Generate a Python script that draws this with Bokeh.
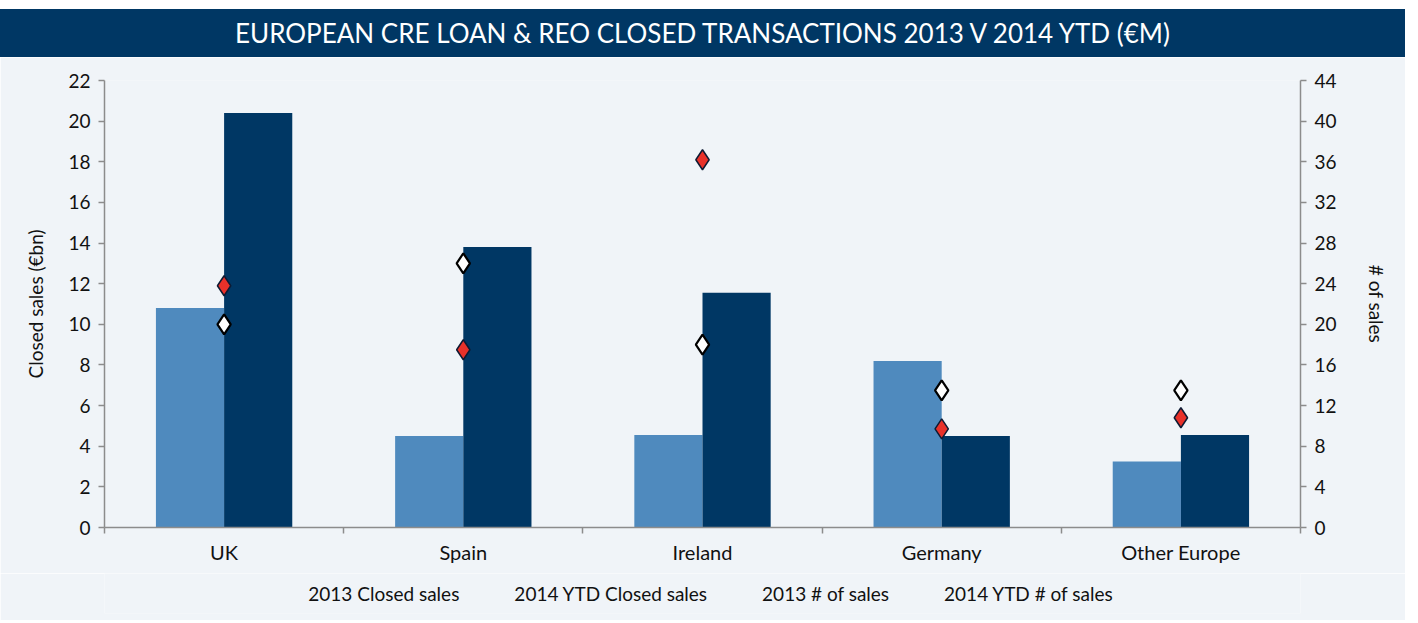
from bokeh.plotting import figure
from bokeh.models import (Range1d, LinearAxis, FixedTicker, Legend, LegendItem,
                          ColumnDataSource, Div)
from bokeh.layouts import column
from bokeh.transform import dodge
from bokeh.embed import file_html
from bokeh.resources import INLINE

# ---------------- data ----------------
categories = ["UK", "Spain", "Ireland", "Germany", "Other Europe"]
closed_2013 = [10.8, 4.5, 4.55, 8.2, 3.25]
closed_2014 = [20.4, 13.8, 11.55, 4.5, 4.55]
count_2013 = [20, 26, 18, 13.5, 13.5]
count_2014 = [23.8, 17.5, 36.2, 9.7, 10.8]
left_ticks = list(range(0, 23, 2))
right_ticks = list(range(0, 45, 4))
series_labels = ["2013 Closed sales", "2014 YTD Closed sales",
                 "2013 # of sales", "2014 YTD # of sales"]
title_text = "EUROPEAN CRE LOAN & REO CLOSED TRANSACTIONS 2013 V 2014 YTD (\u20acM)"

# ---------------- style ----------------
BG = "#f0f4f8"
NAVY = "#003764"
LIGHT = "#4f8abe"
RED = "#e8312a"
GRID = "#8c8c8c"
FONT = "Lato"
TXT = "#111111"

W = 1405
xc = [i + 0.5 for i in range(len(categories))]
src = ColumnDataSource(dict(x=xc, c13=closed_2013, c14=closed_2014,
                            n13=count_2013, n14=count_2014))

bar_style = [dict(fill_color=LIGHT, line_color=None), dict(fill_color=NAVY, line_color=None)]
mk_style = [dict(marker="diamond", size=20, fill_color="white", line_color="black", line_width=2.2),
            dict(marker="diamond", size=20, fill_color=RED, line_color="#0d1a33", line_width=1.5)]

p = figure(frame_width=1196, frame_height=447, x_range=Range1d(0, len(categories)),
           y_range=Range1d(0, 22), output_backend="svg", toolbar_location=None,
           min_border_left=104, min_border_right=105, min_border_top=23,
           min_border_bottom=46, background_fill_color=BG, border_fill_color=BG,
           outline_line_color=None, x_axis_type=None, y_axis_type=None)
p.extra_y_ranges = {"count": Range1d(0, 44)}

bw = 0.285
p.vbar(x=dodge("x", -bw / 2, range=p.x_range), top="c13", width=bw, bottom=0,
       source=src, **bar_style[0])
p.vbar(x=dodge("x", bw / 2, range=p.x_range), top="c14", width=bw, bottom=0,
       source=src, **bar_style[1])
p.scatter(x="x", y="n13", source=src, y_range_name="count", **mk_style[0])
p.scatter(x="x", y="n14", source=src, y_range_name="count", **mk_style[1])


def style_axis(ax, fs="19px"):
    ax.axis_line_color = GRID
    ax.axis_line_width = 1.5
    ax.major_tick_line_color = GRID
    ax.major_tick_line_width = 1.5
    ax.minor_tick_line_color = GRID
    ax.minor_tick_line_width = 1.5
    ax.major_tick_in = 0
    ax.minor_tick_in = 0
    ax.major_label_text_font = FONT
    ax.major_label_text_font_size = fs
    ax.major_label_text_color = TXT
    ax.axis_label_text_font = FONT
    ax.axis_label_text_font_size = "19px"
    ax.axis_label_text_font_style = "normal"
    ax.axis_label_text_color = TXT


# x axis: labels at category centres, small ticks at category boundaries
xax = LinearAxis(ticker=FixedTicker(ticks=xc, minor_ticks=list(range(len(categories) + 1))),
                 major_label_overrides={x: c for x, c in zip(xc, categories)})
style_axis(xax, "20px")
xax.major_tick_out = 0
xax.minor_tick_out = 6
xax.major_label_standoff = 6
xax.axis_label_standoff = 0
xax.axis_label_text_font_size = "0px"
p.add_layout(xax, "below")

lax = LinearAxis(ticker=FixedTicker(ticks=left_ticks, minor_ticks=[]),
                 axis_label="Closed sales (\u20acbn)")
style_axis(lax)
lax.major_tick_out = 6
lax.minor_tick_out = 0
lax.major_label_standoff = 8
lax.axis_label_standoff = 18
p.add_layout(lax, "left")

rax = LinearAxis(y_range_name="count", ticker=FixedTicker(ticks=right_ticks, minor_ticks=[]),
                 axis_label="# of sales")
style_axis(rax)
rax.major_tick_out = 6
rax.minor_tick_out = 0
rax.major_label_standoff = 8
rax.axis_label_standoff = 25
p.add_layout(rax, "right")

p.ygrid.ticker = FixedTicker(ticks=left_ticks)
p.ygrid.grid_line_color = GRID
p.ygrid.grid_line_width = 1.5
p.xgrid.grid_line_color = None

# ---------------- legend strip (own small figure, same glyph styles) ----------------
lg = figure(width=W, height=47, x_range=Range1d(0, 1), y_range=Range1d(0, 1),
            output_backend="svg", toolbar_location=None,
            min_border_left=0, min_border_right=0, min_border_top=0, min_border_bottom=7,
            background_fill_color=BG, border_fill_color=BG, outline_line_color=None,
            x_axis_type=None, y_axis_type=None)
lg.xgrid.grid_line_color = None
lg.ygrid.grid_line_color = None
empty = dict(x=[], y=[])
lr = [lg.vbar(x=[], top=[], width=0.1, **bar_style[0]),
      lg.vbar(x=[], top=[], width=0.1, **bar_style[1]),
      lg.scatter(x=[], y=[], **mk_style[0]),
      lg.scatter(x=[], y=[], **mk_style[1])]

legend = Legend(items=[LegendItem(label=lab, renderers=[r]) for lab, r in zip(series_labels, lr)],
                orientation="horizontal", location="center")
legend.label_text_font = FONT
legend.label_text_font_size = "19px"
legend.label_text_color = TXT
legend.glyph_width = 13
legend.glyph_height = 13
legend.label_standoff = 4
legend.spacing = 38
legend.background_fill_alpha = 0
legend.border_line_color = None
legend.margin = 0
legend.padding = 2
lg.add_layout(legend, "center")

title = Div(text=title_text, width=W, height=48, margin=(9, 0, 0, 0),
            styles={"background-color": NAVY, "color": "white", "font-family": FONT,
                    "font-size": "26px", "text-align": "center", "line-height": "48px"})

layout = column(title, p, lg, spacing=0, margin=0)

open("out.html", "w").write(file_html(layout, INLINE))
